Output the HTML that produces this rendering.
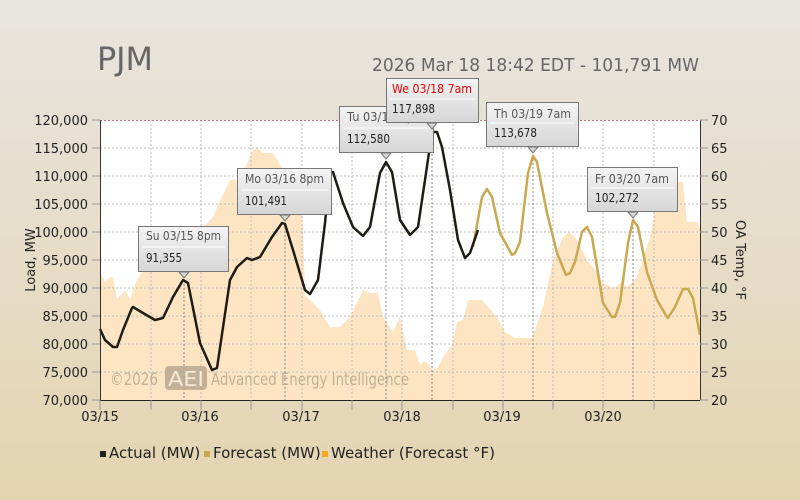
<!DOCTYPE html>
<html><head><meta charset="utf-8"><style>
html,body{margin:0;padding:0;width:800px;height:500px;overflow:hidden}
svg{font-family:"DejaVu Sans","Liberation Sans",sans-serif}
</style></head><body>
<svg width="800" height="500" viewBox="0 0 800 500" xmlns="http://www.w3.org/2000/svg">
<defs>
<linearGradient id="bg" x1="0" y1="0" x2="0" y2="1"><stop offset="0" stop-color="#e8e5e0"/><stop offset="1" stop-color="#e4d4b0"/></linearGradient>
<linearGradient id="tip" x1="0" y1="0" x2="0" y2="1"><stop offset="0" stop-color="#f4f4f4"/><stop offset="1" stop-color="#d6d6d6"/></linearGradient>
</defs>
<rect width="800" height="500" fill="url(#bg)"/>
<text x="97" y="70" font-size="32" fill="#666" textLength="56" lengthAdjust="spacingAndGlyphs">PJM</text>
<text x="372" y="71" font-size="18" fill="#666" textLength="327" lengthAdjust="spacingAndGlyphs">2026 Mar 18 18:42 EDT - 101,791 MW</text>
<rect x="100" y="120" width="600" height="280" fill="#fff"/>
<polygon fill="#fde5c4" points="100,400 100,272 105,282 110,277 113,277 117,299 125,290 130,299 137,280 150,260 173,237 200,230 213,217 218,205 230,180 240,180 253,150 258,148 263,153 273,153 280,165 302,200 305,295 310,300 320,310 330,327 340,327 350,317 363,290 370,293 378,293 383,317 393,332 400,317 407,350 415,350 420,365 423,362 427,362 432,370 438,367 443,357 452,345 457,322 463,320 468,300 482,300 497,317 505,332 515,338 532,338 543,307 553,260 563,237 570,232 577,240 587,260 597,272 603,283 613,288 622,282 627,287 637,277 650,237 657,200 667,200 678,182 683,182 687,222 698,222 700,230 700,400"/>
<g stroke="#bbb" stroke-width="1" stroke-dasharray="2,2">
<line x1="100" x2="700" y1="148" y2="148"/><line x1="100" x2="700" y1="176" y2="176"/><line x1="100" x2="700" y1="204" y2="204"/><line x1="100" x2="700" y1="232" y2="232"/><line x1="100" x2="700" y1="260" y2="260"/><line x1="100" x2="700" y1="288" y2="288"/><line x1="100" x2="700" y1="316" y2="316"/><line x1="100" x2="700" y1="344" y2="344"/><line x1="100" x2="700" y1="372" y2="372"/>
<line x1="151" x2="151" y1="120" y2="400"/><line x1="201" x2="201" y1="120" y2="400"/><line x1="251" x2="251" y1="120" y2="400"/><line x1="302" x2="302" y1="120" y2="400"/><line x1="352" x2="352" y1="120" y2="400"/><line x1="402" x2="402" y1="120" y2="400"/><line x1="453" x2="453" y1="120" y2="400"/><line x1="503" x2="503" y1="120" y2="400"/><line x1="553" x2="553" y1="120" y2="400"/><line x1="603" x2="603" y1="120" y2="400"/><line x1="654" x2="654" y1="120" y2="400"/>
</g>
<g stroke="#888" stroke-width="1" stroke-dasharray="2,2">
<line x1="184" x2="184" y1="272" y2="400"/><line x1="285" x2="285" y1="215" y2="400"/><line x1="386" x2="386" y1="153" y2="400"/><line x1="432" x2="432" y1="122" y2="400"/><line x1="533" x2="533" y1="147" y2="400"/><line x1="633" x2="633" y1="211" y2="400"/>
</g>
<line x1="100" x2="700" y1="120.5" y2="120.5" stroke="#c87070" stroke-dasharray="2,2"/>
<text x="110" y="385" font-size="17" fill="#b8a78f" opacity="0.85" textLength="48" lengthAdjust="spacingAndGlyphs">©2026</text>
<rect x="165" y="366" width="42" height="24" rx="4" fill="#b8a78f" opacity="0.85"/>
<text x="168" y="386" font-size="20" fill="#f3ead8" textLength="36" lengthAdjust="spacingAndGlyphs">AEI</text>
<text x="211" y="385" font-size="17" fill="#b8a78f" opacity="0.85" textLength="198" lengthAdjust="spacingAndGlyphs">Advanced Energy Intelligence</text>
<polyline fill="none" stroke="#c8a850" stroke-width="2.5" stroke-linejoin="round" points="473,247 482,197 487,189 492,197 500,233 512,255 515,253 520,242 528,173 533,156 537,162 547,213 557,253 566,275 570,273 575,262 582,232 587,227 592,237 603,303 612,317 615,317 620,303 628,243 633,220 638,227 647,272 657,300 667,317 668,318 675,307 683,289 688,289 693,298 700,335"/>
<polyline fill="none" stroke="#1f1c16" stroke-width="2.5" stroke-linejoin="round" points="100,329 105,340 113,347 117,347 123,330 132,308 133,307 143,313 155,320 163,318 173,297 183,280 188,283 200,343 212,370 217,368 230,280 237,267 247,258 252,260 260,257 272,237 282,223 285,224 293,250 305,290 310,294 318,280 325,223 330,172 333,172 343,203 353,227 363,236 370,227 380,173 386,162 392,172 400,220 410,235 418,227 425,180 432,132 437,132 442,147 450,190 458,240 465,258 470,253 478,230"/>
<line x1="100.5" x2="100.5" y1="120" y2="400" stroke="#333"/>
<line x1="700.5" x2="700.5" y1="120" y2="400" stroke="#333"/>
<line x1="100" x2="700" y1="400.5" y2="400.5" stroke="#222"/>
<g stroke="#999"><line x1="92" x2="100" y1="120" y2="120"/><line x1="92" x2="100" y1="148" y2="148"/><line x1="92" x2="100" y1="176" y2="176"/><line x1="92" x2="100" y1="204" y2="204"/><line x1="92" x2="100" y1="232" y2="232"/><line x1="92" x2="100" y1="260" y2="260"/><line x1="92" x2="100" y1="288" y2="288"/><line x1="92" x2="100" y1="316" y2="316"/><line x1="92" x2="100" y1="344" y2="344"/><line x1="92" x2="100" y1="372" y2="372"/><line x1="92" x2="100" y1="400" y2="400"/>
<line x1="700" x2="708" y1="120" y2="120"/><line x1="700" x2="708" y1="148" y2="148"/><line x1="700" x2="708" y1="176" y2="176"/><line x1="700" x2="708" y1="204" y2="204"/><line x1="700" x2="708" y1="232" y2="232"/><line x1="700" x2="708" y1="260" y2="260"/><line x1="700" x2="708" y1="288" y2="288"/><line x1="700" x2="708" y1="316" y2="316"/><line x1="700" x2="708" y1="344" y2="344"/><line x1="700" x2="708" y1="372" y2="372"/><line x1="700" x2="708" y1="400" y2="400"/>
<line x1="100" x2="100" y1="400" y2="410"/><line x1="151" x2="151" y1="400" y2="410"/><line x1="201" x2="201" y1="400" y2="410"/><line x1="251" x2="251" y1="400" y2="410"/><line x1="302" x2="302" y1="400" y2="410"/><line x1="352" x2="352" y1="400" y2="410"/><line x1="402" x2="402" y1="400" y2="410"/><line x1="453" x2="453" y1="400" y2="410"/><line x1="503" x2="503" y1="400" y2="410"/><line x1="553" x2="553" y1="400" y2="410"/><line x1="603" x2="603" y1="400" y2="410"/><line x1="654" x2="654" y1="400" y2="410"/></g>
<g font-size="13" fill="#222" text-anchor="end">
<text x="88" y="125">120,000</text><text x="88" y="153">115,000</text><text x="88" y="181">110,000</text><text x="88" y="209">105,000</text><text x="88" y="237">100,000</text><text x="88" y="265">95,000</text><text x="88" y="293">90,000</text><text x="88" y="321">85,000</text><text x="88" y="349">80,000</text><text x="88" y="377">75,000</text><text x="88" y="405">70,000</text></g>
<g font-size="13" fill="#222">
<text x="711" y="125">70</text><text x="711" y="153">65</text><text x="711" y="181">60</text><text x="711" y="209">55</text><text x="711" y="237">50</text><text x="711" y="265">45</text><text x="711" y="293">40</text><text x="711" y="321">35</text><text x="711" y="349">30</text><text x="711" y="377">25</text><text x="711" y="405">20</text></g>
<g font-size="13" fill="#222" text-anchor="middle">
<text x="100" y="421">03/15</text><text x="200" y="421">03/16</text><text x="301" y="421">03/17</text><text x="402" y="421">03/18</text><text x="502" y="421">03/19</text><text x="603" y="421">03/20</text></g>
<text transform="translate(35,260) rotate(-90)" font-size="13" fill="#222" text-anchor="middle">Load, MW</text>
<text transform="translate(736,260) rotate(90)" font-size="13" fill="#222" text-anchor="middle">OA Temp, °F</text>
<g font-size="12" lengthAdjust="spacingAndGlyphs">
<g><rect x="138.5" y="226.5" width="90" height="45" fill="url(#tip)" stroke="#777"/><polygon points="179,272 184,278 189,272" fill="#d6d6d6" stroke="#777"/><line x1="142" x2="225" y1="247" y2="247" stroke="#fff"/><text x="146" y="240" fill="#555" textLength="75" lengthAdjust="spacingAndGlyphs">Su 03/15 8pm</text><text x="146" y="262" fill="#222" textLength="36" lengthAdjust="spacingAndGlyphs">91,355</text></g>
<g><rect x="237.5" y="168.5" width="94" height="46" fill="url(#tip)" stroke="#777"/><polygon points="280,215 285,221 290,215" fill="#d6d6d6" stroke="#777"/><line x1="241" x2="328" y1="190" y2="190" stroke="#fff"/><text x="245" y="183" fill="#555" textLength="79" lengthAdjust="spacingAndGlyphs">Mo 03/16 8pm</text><text x="245" y="205" fill="#222" textLength="42" lengthAdjust="spacingAndGlyphs">101,491</text></g>
<g><rect x="339.5" y="106.5" width="94" height="46" fill="url(#tip)" stroke="#777"/><polygon points="381,153 386,159 391,153" fill="#d6d6d6" stroke="#777"/><line x1="343" x2="430" y1="128" y2="128" stroke="#fff"/><text x="347" y="121" fill="#555" textLength="78" lengthAdjust="spacingAndGlyphs">Tu 03/17 7pm</text><text x="347" y="143" fill="#222" textLength="43" lengthAdjust="spacingAndGlyphs">112,580</text></g>
<g><rect x="386.5" y="78.5" width="92" height="44" fill="url(#tip)" stroke="#777"/><polygon points="427,123 432,129 437,123" fill="#d6d6d6" stroke="#777"/><line x1="390" x2="475" y1="99" y2="99" stroke="#fff"/><text x="392" y="93" fill="#e00" textLength="80" lengthAdjust="spacingAndGlyphs">We 03/18 7am</text><text x="392" y="113" fill="#222" textLength="43" lengthAdjust="spacingAndGlyphs">117,898</text></g>
<g><rect x="486.5" y="102.5" width="92" height="44" fill="url(#tip)" stroke="#777"/><polygon points="528,147 533,153 538,147" fill="#d6d6d6" stroke="#777"/><line x1="490" x2="575" y1="123" y2="123" stroke="#fff"/><text x="494" y="118" fill="#555" textLength="77" lengthAdjust="spacingAndGlyphs">Th 03/19 7am</text><text x="494" y="137" fill="#222" textLength="43" lengthAdjust="spacingAndGlyphs">113,678</text></g>
<g><rect x="587.5" y="167.5" width="90" height="44" fill="url(#tip)" stroke="#777"/><polygon points="628,212 633,218 638,212" fill="#d6d6d6" stroke="#777"/><line x1="591" x2="674" y1="188" y2="188" stroke="#fff"/><text x="595" y="183" fill="#555" textLength="74" lengthAdjust="spacingAndGlyphs">Fr 03/20 7am</text><text x="595" y="202" fill="#222" textLength="44" lengthAdjust="spacingAndGlyphs">102,272</text></g>
</g>
<g font-size="15" fill="#222">
<rect x="100" y="451" width="6" height="6" fill="#222"/><text x="109" y="458">Actual (MW)</text>
<rect x="204" y="451" width="6" height="6" fill="#c8a850"/><text x="213" y="458">Forecast (MW)</text>
<rect x="322" y="451" width="6" height="6" fill="#f5a623"/><text x="331" y="458">Weather (Forecast °F)</text>
</g>
</svg>
</body></html>
